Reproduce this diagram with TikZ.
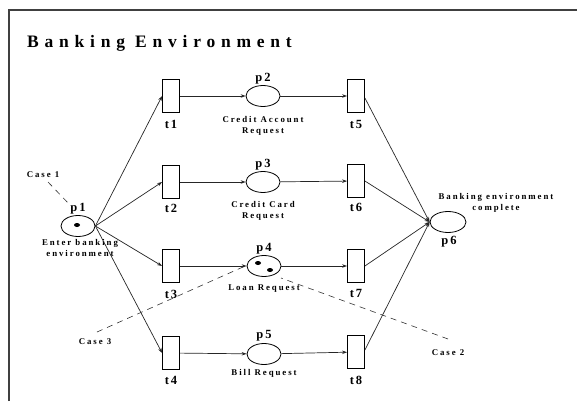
\documentclass[tikz,border=0pt]{standalone}
\usepackage{fontspec}
\setmainfont{Liberation Serif}
\usetikzlibrary{arrows.meta,shapes.geometric}
\begin{document}
\begin{tikzpicture}[x=1pt,y=-1pt,
  lbl/.style={font=\fontsize{8.8}{10.5}\selectfont\bfseries\addfontfeatures{LetterSpace=22}, inner sep=0pt, align=center},
  plbl/.style={font=\fontsize{12.5}{12.5}\selectfont\bfseries\addfontfeatures{LetterSpace=15}, inner sep=0pt},
  trans/.style={draw, line width=0.8pt, minimum width=17pt, minimum height=33pt, inner sep=0pt},
  place/.style={draw, line width=0.8pt, ellipse, minimum width=34pt, minimum height=21pt, inner sep=0pt},
  arc/.style={line width=0.7pt, black!85, -{Stealth[length=5pt,width=3.5pt]}},
  case/.style={line width=0.6pt, black!80, dash pattern=on 6pt off 5pt},
  token/.style={fill=black, ellipse, minimum width=6pt, minimum height=4pt, inner sep=0pt}]
\useasboundingbox (0,0) rectangle (577,401);
\draw[line width=1.2pt, black!75] (9,401) -- (9,10) -- (577,10);
\node[anchor=west, font=\fontsize{17.5}{17.5}\selectfont\bfseries\addfontfeatures{LetterSpace=33}, inner sep=0pt] (title) at (27,43) {Banking Environment};
% places
\node[place] (p1) at (78,226) {};
\node[place] (p2) at (263,96) {};
\node[place] (p3) at (263,182) {};
\node[place] (p4) at (264,266) {};
\node[place] (p5) at (264,354) {};
\node[place, minimum width=36pt] (p6) at (448,222) {};
% tokens
\node[token] (k1) at (77,225) {};
\node[token] (k2) at (258,263) {};
\node[token] (k3) at (270,270) {};
% transitions
\node[trans] (t1) at (171,96) {};
\node[trans] (t2) at (171,182) {};
\node[trans] (t3) at (171,266) {};
\node[trans] (t4) at (171,353) {};
\node[trans] (t5) at (356,96) {};
\node[trans] (t6) at (356,181) {};
\node[trans] (t7) at (356,266) {};
\node[trans] (t8) at (356,352) {};
% labels
\node[plbl] (lp1) at (78,209) {p1};
\node[plbl] (lp2) at (263,79) {p2};
\node[plbl] (lp3) at (263,165) {p3};
\node[plbl] (lp4) at (264,249) {p4};
\node[plbl] (lp5) at (264,336) {p5};
\node[plbl] (lp6) at (449,242) {p6};
\node[plbl] (lt1) at (171,124) {t1};
\node[plbl] (lt2) at (171,208) {t2};
\node[plbl] (lt3) at (171,294) {t3};
\node[plbl] (lt4) at (171,380) {t4};
\node[plbl] (lt5) at (356,124) {t5};
\node[plbl] (lt6) at (356,207) {t6};
\node[plbl] (lt7) at (356,293) {t7};
\node[plbl] (lt8) at (356,380) {t8};
\node[lbl] (n2) at (263,126) {Credit Account\\Request};
\node[lbl] (n3) at (263,211) {Credit Card\\Request};
\node[lbl] (n4) at (264,289) {Loan Request};
\node[lbl] (n5) at (264,373) {Bill Request};
\node[lbl] (n1) at (80,248) {Enter banking\\environment};
\node[lbl] (n6) at (496,203) {Banking environment\\complete};
\node[lbl] (c1) at (43,175) {Case 1};
\node[lbl] (c3) at (95,342) {Case 3};
\node[lbl] (c2) at (448,353) {Case 2};
% arcs
\foreach \t in {t1,t2,t3,t4} \draw[arc] (p1.east) -- (\t.west);
\draw[arc] (t1) -- (p2); \draw[arc] (t2) -- (p3);
\draw[arc] (t3) -- (p4); \draw[arc] (t4) -- (p5);
\draw[arc] (p2) -- (t5); \draw[arc] (p3) -- (t6);
\draw[arc] (p4) -- (t7); \draw[arc] (p5) -- (t8);
\draw[arc] ([yshift=-2pt]t5.east) -- (p6.west);
\draw[arc] (t6.east) -- (p6.west);
\draw[arc] (t7.east) -- (p6.west);
\draw[arc] ([yshift=2pt]t8.east) -- (p6.west);
% case lines
\coordinate (e1) at (70,205);
\coordinate (e3) at (243,267);
\coordinate (e2) at (281,278);
\draw[case] ([shift={(5,7)}]c1.center) -- (e1);
\draw[case] ([shift={(2,-10)}]c3.center) -- (e3);
\draw[case] ([shift={(0,-14)}]c2.center) -- (e2);
\end{tikzpicture}
\end{document}
